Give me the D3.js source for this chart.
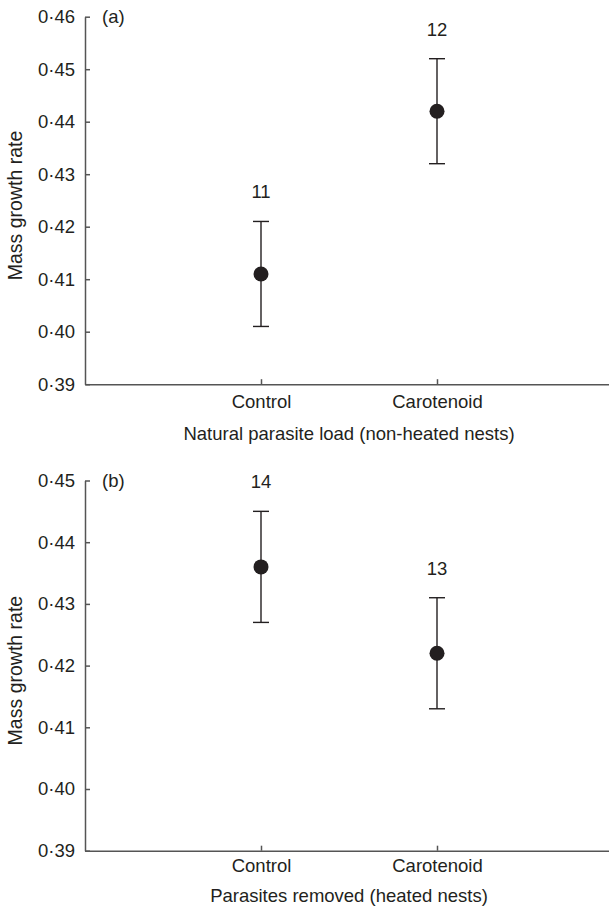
<!DOCTYPE html>
<html>
<head>
<meta charset="utf-8">
<script src="https://cdn.jsdelivr.net/npm/d3@7"></script>
<style>
  body { margin: 0; background: #fff; }
  text { font-family: "Liberation Sans", Arial, sans-serif; fill: #231f20; }
</style>
</head>
<body>
<div id="chart"></div>
<script>
// Data
const groups = ["Control", "Carotenoid"];

const meansA = [0.411, 0.442];
const lowerA = [0.401, 0.432];
const upperA = [0.421, 0.452];
const nA = [11, 12];

const meansB = [0.436, 0.422];
const lowerB = [0.427, 0.413];
const upperB = [0.445, 0.431];
const nB = [14, 13];

const ticksA = [0.39, 0.40, 0.41, 0.42, 0.43, 0.44, 0.45, 0.46];
const ticksB = [0.39, 0.40, 0.41, 0.42, 0.43, 0.44, 0.45];

const width = 609, height = 908;
const fontSize = "18.5px";

const svg = d3.select("#chart").append("svg")
    .attr("width", width)
    .attr("height", height);

const fmt = d => d3.format(".2f")(d).replace(".", "\u00b7");

function drawPanel(opts) {
    const g = svg.append("g");
    const left = 85, right = 613;

    const x = d3.scalePoint()
        .domain(groups)
        .range([left, right])
        .padding(1);

    const y = d3.scaleLinear()
        .domain([opts.ticks[0], opts.ticks[opts.ticks.length - 1]])
        .range([opts.bottom, opts.top]);

    // y axis
    const yAxis = g.append("g")
        .attr("transform", "translate(" + left + ",0)")
        .call(d3.axisLeft(y).tickValues(opts.ticks).tickFormat(fmt)
            .tickSizeInner(-5).tickSizeOuter(0).tickPadding(10));
    yAxis.selectAll("text").style("font-size", fontSize).attr("font-family", null);

    // x axis
    const xAxis = g.append("g")
        .attr("transform", "translate(0," + opts.bottom + ")")
        .call(d3.axisBottom(x).tickSizeInner(-5).tickSizeOuter(0).tickPadding(opts.xPad));
    xAxis.selectAll("text").style("font-size", fontSize).attr("font-family", null);

    g.selectAll(".domain, .tick line")
        .attr("stroke", "#555")
        .attr("stroke-width", 1.5);

    const rows = groups.map((k, i) => ({
        key: k, mean: opts.means[i], lo: opts.lower[i], hi: opts.upper[i], n: opts.n[i]
    }));

    const bars = g.selectAll(".bar").data(rows).enter().append("g").attr("class", "bar");
    bars.append("line")
        .attr("x1", d => x(d.key)).attr("x2", d => x(d.key))
        .attr("y1", d => y(d.lo)).attr("y2", d => y(d.hi));
    bars.append("line")
        .attr("x1", d => x(d.key) - 8).attr("x2", d => x(d.key) + 8)
        .attr("y1", d => y(d.hi)).attr("y2", d => y(d.hi));
    bars.append("line")
        .attr("x1", d => x(d.key) - 8).attr("x2", d => x(d.key) + 8)
        .attr("y1", d => y(d.lo)).attr("y2", d => y(d.lo));
    bars.selectAll("line")
        .attr("stroke", "#231f20")
        .attr("stroke-width", 1.4);

    bars.append("circle")
        .attr("cx", d => x(d.key))
        .attr("cy", d => y(d.mean))
        .attr("r", 7.5)
        .attr("fill", "#231f20");

    // sample sizes
    bars.append("text")
        .attr("x", d => x(d.key))
        .attr("y", d => y(d.hi) - 23)
        .attr("text-anchor", "middle")
        .style("font-size", fontSize)
        .text(d => d.n);

    // panel letter
    g.append("text")
        .attr("x", 102)
        .attr("y", opts.top + 6)
        .style("font-size", fontSize)
        .text(opts.letter);

    // axis titles
    g.append("text")
        .attr("x", (x(groups[0]) + x(groups[1])) / 2)
        .attr("y", opts.bottom + opts.titleOffset)
        .attr("text-anchor", "middle")
        .style("font-size", fontSize)
        .text(opts.xTitle);

    g.append("text")
        .attr("transform", "translate(22," + ((opts.top + opts.bottom) / 2 + 5) + ") rotate(-90)")
        .attr("text-anchor", "middle")
        .style("font-size", "19.5px")
        .text("Mass growth rate");
}

drawPanel({
    top: 16.7, bottom: 384.2, ticks: ticksA, xPad: 11, titleOffset: 56,
    means: meansA, lower: lowerA, upper: upperA, n: nA,
    letter: "(a)", xTitle: "Natural parasite load (non-heated nests)"
});

drawPanel({
    top: 480.5, bottom: 850.7, ticks: ticksB, xPad: 8, titleOffset: 51,
    means: meansB, lower: lowerB, upper: upperB, n: nB,
    letter: "(b)", xTitle: "Parasites removed (heated nests)"
});
</script>
</body>
</html>
